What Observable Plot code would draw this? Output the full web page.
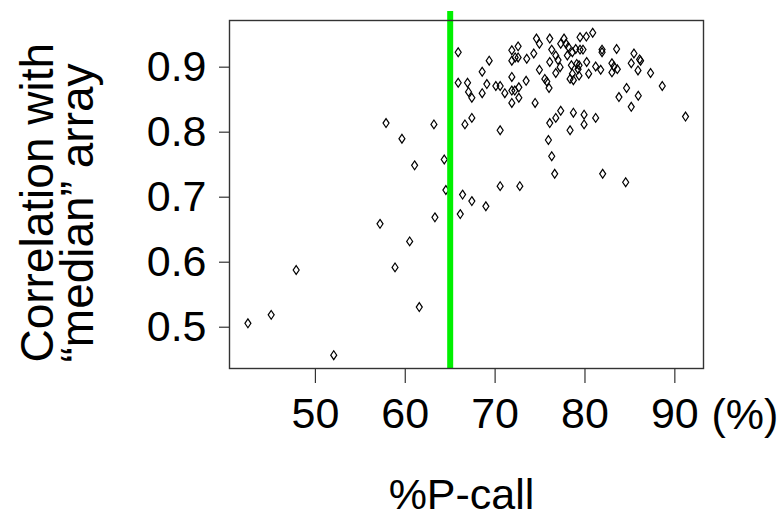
<!DOCTYPE html>
<html>
<head>
<meta charset="utf-8">
<script src="https://cdn.jsdelivr.net/npm/d3@7"></script>
<script src="https://cdn.jsdelivr.net/npm/@observablehq/plot@0.6"></script>
<style>
  html, body { margin: 0; padding: 0; background: #fff; }
  #chart svg { display: block; }
</style>
</head>
<body>
<div id="chart"></div>
<script>
// %P-call of each array
const pcall = [
  65.89, 69.34, 68.56, 65.89, 66.93, 67.04, 67.41, 68.56, 69.08, 70.08,
  70.56, 71.08, 71.86, 71.86, 71.86, 72.19, 72.64, 72.64, 73.45, 74.45,
  71.86, 71.86, 72.23, 72.56, 72.56, 73.52, 74.30, 74.60, 74.93, 74.93,
  75.53, 75.75, 76.00, 76.08, 76.30, 76.08, 76.75, 77.00, 76.75, 77.23,
  77.30, 77.67, 77.89, 78.15, 78.04, 78.60, 78.49, 78.97, 79.45, 79.45,
  79.78, 80.15, 80.86, 79.08, 79.34, 79.23, 78.60, 78.34, 78.71, 79.34,
  80.19, 80.41, 81.19, 81.75, 81.90, 81.90, 83.00, 83.23, 83.00, 83.60,
  83.52, 85.15, 85.45, 86.08, 86.19, 85.90, 87.30, 88.60, 83.78, 84.63,
  85.93, 85.15, 91.19, 66.64, 67.41, 70.56, 76.08, 76.75, 77.30, 78.71,
  79.90, 79.90, 81.19, 78.34, 75.93, 76.30, 76.63, 81.97, 84.53, 70.56,
  72.75, 64.52, 66.38, 67.41, 66.12, 68.97, 63.30, 57.19, 60.49, 58.86,
  47.86, 61.56, 45.08, 42.49, 52.04, 57.86, 63.19, 59.63, 61.04, 64.34
];
// correlation with the "median" array
const corr = [
  0.923, 0.910, 0.893, 0.876, 0.876, 0.862, 0.853, 0.860, 0.874, 0.871,
  0.871, 0.860, 0.885, 0.864, 0.845, 0.864, 0.869, 0.853, 0.879, 0.845,
  0.926, 0.910, 0.915, 0.932, 0.915, 0.913, 0.921, 0.944, 0.936, 0.896,
  0.882, 0.878, 0.868, 0.944, 0.927, 0.908, 0.918, 0.911, 0.891, 0.900,
  0.936, 0.944, 0.936, 0.931, 0.918, 0.923, 0.903, 0.928, 0.946, 0.927,
  0.927, 0.947, 0.953, 0.905, 0.903, 0.897, 0.890, 0.882, 0.880, 0.887,
  0.908, 0.890, 0.901, 0.896, 0.927, 0.923, 0.906, 0.901, 0.892, 0.897,
  0.928, 0.906, 0.921, 0.912, 0.910, 0.895, 0.891, 0.871, 0.854, 0.868,
  0.856, 0.839, 0.824, 0.812, 0.822, 0.803, 0.814, 0.822, 0.833, 0.830,
  0.827, 0.812, 0.822, 0.803, 0.788, 0.763, 0.736, 0.736, 0.723, 0.717,
  0.717, 0.711, 0.704, 0.694, 0.674, 0.686, 0.669, 0.659, 0.632, 0.592,
  0.588, 0.531, 0.519, 0.506, 0.457, 0.814, 0.812, 0.790, 0.749, 0.758
];
const xTicks = [50, 60, 70, 80, 90];
const yTicks = [0.5, 0.6, 0.7, 0.8, 0.9];
const threshold = [65];
const xLabel = "%P-call";
const xUnit = "(%)";
const yLabelLines = ["Correlation with", "\u201cmedian\u201d array"];

const points = pcall.map((p, i) => ({pcall: p, corr: corr[i]}));

// R-style open diamond (pch = 5)
const diamond = {
  draw(context) {
    context.moveTo(0, -4.4);
    context.lineTo(3, 0);
    context.lineTo(0, 4.4);
    context.lineTo(-3, 0);
    context.closePath();
  }
};

const font = "'Liberation Sans', Arial, Helvetica, sans-serif";

const chart = Plot.plot({
  width: 777,
  height: 518,
  marginLeft: 229,
  marginRight: 74,
  marginTop: 20,
  marginBottom: 150,
  style: {fontFamily: font, fontSize: "43px", color: "#000", background: "#fff"},
  x: {domain: [40.44, 93.19]},
  y: {domain: [0.4365, 0.9718]},
  marks: [
    Plot.dot(points, {x: "pcall", y: "corr", symbol: diamond, stroke: "#000", strokeWidth: 1.2, fill: "none"}),
    Plot.ruleX(threshold, {stroke: "#00f000", strokeWidth: 6, insetTop: -9}),
    Plot.frame({stroke: "#333", strokeWidth: 1.4}),
    Plot.axisX({ticks: xTicks, tickSize: 15, tickPadding: 14, fontSize: 43, label: null, stroke: "#333", strokeWidth: 1.2, tickFormat: d3.format("d")}),
    Plot.axisY({ticks: yTicks, tickSize: 10, tickPadding: 13, fontSize: 43, label: null, stroke: "#333", strokeWidth: 1.2, tickFormat: d3.format(".1f")}),
    Plot.text([xUnit], {text: d => d, frameAnchor: "bottom-right", textAnchor: "start", lineAnchor: "bottom", dx: 8, dy: 60, fontSize: 43, fill: "#000"}),
    Plot.text([xLabel], {text: d => d, frameAnchor: "bottom", textAnchor: "middle", lineAnchor: "bottom", dx: -5, dy: 140, fontSize: 43, fill: "#000"}),
    Plot.text([yLabelLines[0]], {text: d => d, frameAnchor: "bottom-left", rotate: -90, textAnchor: "start", lineAnchor: "bottom", dx: -177, dy: -6, fontSize: 46, fill: "#000"}),
    Plot.text([yLabelLines[1]], {text: d => d, frameAnchor: "bottom-left", rotate: -90, textAnchor: "start", lineAnchor: "bottom", dx: -137, dy: -6, fontSize: 46, fill: "#000"})
  ]
});
document.getElementById("chart").appendChild(chart);
</script>
</body>
</html>
